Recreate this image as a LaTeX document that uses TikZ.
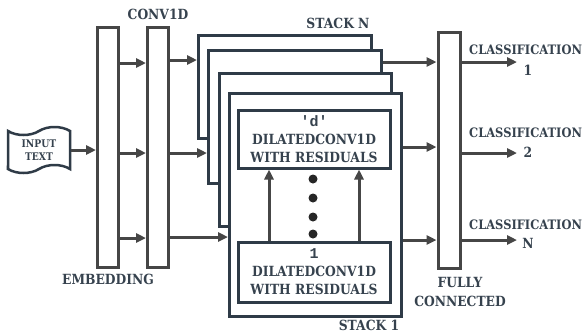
\documentclass[tikz,border=0pt]{standalone}
\usepackage{fontspec}
\setmainfont[FakeStretch=0.88]{DejaVu Serif}
\setmonofont{Liberation Mono}
\usetikzlibrary{arrows.meta,shapes.symbols}
\definecolor{bargray}{HTML}{464646}
\definecolor{slate}{HTML}{2F3B47}
\definecolor{txt}{HTML}{36424E}
\begin{document}
\begin{tikzpicture}[x=1pt,y=-1pt,
  bar/.style={draw=bargray,line width=3pt,fill=white,inner sep=0pt,minimum width=21pt},
  stackbox/.style={draw=slate,line width=3pt,fill=white,anchor=north west,inner sep=0pt},
  convbox/.style={draw=slate,line width=3pt,fill=white,inner sep=0pt,minimum width=152pt,
    text=txt,align=center,font=\bfseries\fontsize{14}{18}\selectfont},
  lbl/.style={text=txt,align=center,font=\bfseries\fontsize{14}{19}\selectfont,inner sep=0pt},
  arr/.style={draw=bargray,line width=3pt,-{Triangle[length=10pt,width=9pt]}},
  dot/.style={circle,fill=black!85,inner sep=0pt,minimum size=9pt}]
\useasboundingbox (0,0) rectangle (586,335);
% input and first layers
\node[tape,tape bend height=8pt,draw=slate,line width=2.5pt,fill=white,minimum width=62pt,minimum height=46pt,
  text=txt,align=center,font=\bfseries\fontsize{10.5}{13}\selectfont] (inp) at (39,150) {INPUT\\TEXT};
\node[bar,minimum height=240pt] (emb) at (108,147) {};
\node[bar,minimum height=240pt] (conv) at (158,147) {};
\node[lbl] (embl) at (108,279) {EMBEDDING};
\node[lbl] (convl) at (158,14) {CONV1D};
% stacks, back to front
\node[stackbox,minimum width=173pt,minimum height=103pt] (s4) at (197,34) {};
\node[stackbox,minimum width=173pt,minimum height=133pt] (s3) at (207,49) {};
\node[stackbox,minimum width=172pt,minimum height=153pt] (s2) at (218,72) {};
\node[stackbox,minimum width=172pt,minimum height=223pt] (s1) at (228,92) {};
\node[lbl] (s4l) at (338,23) {STACK N};
\node[lbl] (s1l) at (369,325) {STACK 1};
\node[convbox,minimum height=58pt] (dcd) at (314,139) {{\ttfamily\fontsize{15}{18}\selectfont 'd'}\\DILATEDCONV1D\\WITH RESIDUALS};
\node[convbox,minimum height=60pt] (dc1) at (314,272) {{\ttfamily\fontsize{15}{18}\selectfont 1}\\DILATEDCONV1D\\WITH RESIDUALS};
\foreach \y [count=\i] in {179,198,217,234}
  \node[dot] (d\i) at (313,\y) {};
\draw[arr] (dc1.north -| 269,0) -- (dcd.south -| 269,0);
\draw[arr] (dc1.north -| 359,0) -- (dcd.south -| 359,0);
% fully connected
\node[bar,minimum width=22pt,minimum height=236pt] (fc) at (449,150) {};
\node[lbl] (fcl) at (460,292) {FULLY\\CONNECTED};
\node[lbl,anchor=west,font=\bfseries\fontsize{13}{16}\selectfont] (c1) at (469,50) {CLASSIFICATION};
\node[lbl] (n1) at (528,70) {1};
\node[lbl,anchor=west,font=\bfseries\fontsize{13}{16}\selectfont] (c2) at (469,133) {CLASSIFICATION};
\node[lbl] (n2) at (528,152) {2};
\node[lbl,anchor=west,font=\bfseries\fontsize{13}{16}\selectfont] (cn) at (469,225) {CLASSIFICATION};
\node[lbl] (nn) at (528,243) {N};
\coordinate (o1) at (517,62);
\coordinate (o2) at (517,153);
\coordinate (o3) at (517,240);
% connectors
\draw[arr] (inp.east) -- (emb.west |- inp.east);
\draw[arr] (emb.east |- 0,63) -- (conv.west |- 0,63);
\draw[arr] (emb.east |- 0,153) -- (conv.west |- 0,153);
\draw[arr] (emb.east |- 0,238) -- (conv.west |- 0,238);
\draw[arr] (conv.east |- 0,60) -- (s4.west |- 0,60);
\draw[arr] (conv.east |- 0,153) -- (s3.west |- 0,153);
\draw[arr] (conv.east |- 0,237) -- (s1.west |- 0,237);
\draw[arr] (s3.east |- 0,62) -- (fc.west |- 0,62);
\draw[arr] (s1.east |- 0,147) -- (fc.west |- 0,147);
\draw[arr] (s1.east |- 0,240) -- (fc.west |- 0,240);
\draw[arr] (fc.east |- o1) -- (o1);
\draw[arr] (fc.east |- o2) -- (o2);
\draw[arr] (fc.east |- o3) -- (o3);
\end{tikzpicture}
\end{document}
